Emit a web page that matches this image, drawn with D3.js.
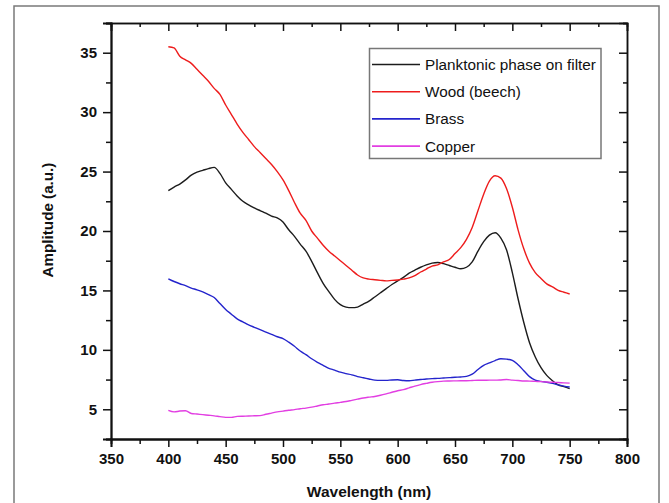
<!DOCTYPE html>
<html>
<head>
<meta charset="utf-8">
<script src="https://cdn.jsdelivr.net/npm/d3@7"></script>
<style>
  html, body { margin: 0; padding: 0; background: #fff; }
  svg { display: block; font-family: Arial, "Liberation Sans", sans-serif; }
</style>
</head>
<body>
<svg id="chart" width="669" height="503"></svg>
<script>
// Wavelength grid (nm), 5 nm step
const wavelengths = d3.range(400, 751, 5);

// Emission amplitudes (a.u.) per sample, one value per wavelength
const planktonic = [23.4, 23.7, 23.95, 24.3, 24.7, 24.95, 25.1, 25.25, 25.35, 24.85,
  24.05, 23.5, 22.95, 22.5, 22.2, 21.95, 21.72, 21.5, 21.25, 21.1,
  20.75, 20.1, 19.55, 18.9, 18.3, 17.45, 16.5, 15.6, 14.9, 14.25,
  13.8, 13.6, 13.55, 13.6, 13.85, 14.1, 14.45, 14.8, 15.15, 15.5,
  15.8, 16.1, 16.45, 16.7, 16.95, 17.15, 17.3, 17.35, 17.25, 17.1,
  16.95, 16.82, 16.95, 17.4, 18.3, 19.1, 19.65, 19.85, 19.4, 18.4,
  16.5, 14.3, 12.3, 10.6, 9.4, 8.5, 7.85, 7.4, 7.05, 6.9, 6.74];

const wood = [35.5, 35.4, 34.7, 34.4, 34.1, 33.6, 33.1, 32.6, 32.0, 31.5,
  30.6, 29.8, 29.0, 28.3, 27.7, 27.1, 26.6, 26.1, 25.6, 25.0,
  24.3, 23.4, 22.4, 21.5, 20.9, 20.0, 19.4, 18.8, 18.3, 17.9,
  17.5, 17.1, 16.7, 16.3, 16.05, 15.95, 15.9, 15.85, 15.8, 15.85,
  15.88, 15.95, 16.05, 16.25, 16.55, 16.8, 17.05, 17.15, 17.4, 17.6,
  18.1, 18.6, 19.3, 20.3, 21.7, 23.1, 24.2, 24.65, 24.45, 23.55,
  22.0, 20.1, 18.5, 17.3, 16.5, 16.0, 15.55, 15.3, 15.0, 14.85, 14.7];

const brass = [15.98, 15.75, 15.56, 15.4, 15.2, 15.05, 14.87, 14.65, 14.4, 13.9,
  13.4, 13.0, 12.6, 12.35, 12.1, 11.9, 11.7, 11.5, 11.3, 11.1,
  10.95, 10.65, 10.3, 9.9, 9.6, 9.25, 8.95, 8.7, 8.45, 8.3,
  8.12, 8.0, 7.9, 7.75, 7.65, 7.55, 7.45, 7.43, 7.43, 7.47,
  7.48, 7.42, 7.4, 7.45, 7.5, 7.55, 7.58, 7.6, 7.63, 7.66,
  7.7, 7.72, 7.77, 7.95, 8.35, 8.7, 8.9, 9.1, 9.25, 9.22,
  9.12, 8.75, 8.25, 7.75, 7.45, 7.35, 7.28, 7.18, 7.05, 6.95, 6.87];

const copper = [4.91, 4.78, 4.85, 4.88, 4.65, 4.6, 4.55, 4.5, 4.45, 4.38,
  4.32, 4.32, 4.4, 4.42, 4.43, 4.45, 4.47, 4.58, 4.68, 4.78,
  4.85, 4.92, 4.97, 5.05, 5.1, 5.18, 5.28, 5.38, 5.44, 5.52,
  5.58, 5.65, 5.75, 5.85, 5.95, 6.02, 6.08, 6.18, 6.3, 6.43,
  6.56, 6.65, 6.8, 6.95, 7.08, 7.18, 7.27, 7.33, 7.37, 7.38,
  7.39, 7.4, 7.4, 7.42, 7.44, 7.44, 7.45, 7.45, 7.47, 7.5,
  7.45, 7.42, 7.38, 7.37, 7.35, 7.33, 7.3, 7.27, 7.25, 7.22, 7.2];

const seriesNames = ["Planktonic phase on filter", "Wood (beech)", "Brass", "Copper"];
const seriesValues = [planktonic, wood, brass, copper];
const seriesColors = ["#1c1c1c", "#ee1c1c", "#2424cc", "#e23ee2"];

const xTicks = [350, 400, 450, 500, 550, 600, 650, 700, 750, 800];
const yTicks = [5, 10, 15, 20, 25, 30, 35];
const xMinorTicks = d3.range(375, 800, 50);
const yMinorTicks = d3.range(2.5, 38, 5);

const svg = d3.select("#chart");
const plot = { left: 111, right: 627, top: 23, bottom: 439 };

const x = d3.scaleLinear().domain([350, 800]).range([plot.left, plot.right]);
const y = d3.scaleLinear().domain([2.5, 37.5]).range([plot.bottom, plot.top]);

// outer figure frame
svg.append("rect")
  .attr("x", 14).attr("y", 6)
  .attr("width", 645).attr("height", 510)
  .attr("fill", "#fff").attr("stroke", "#7a7a7a").attr("stroke-width", 1.5);

// curves
const line = d3.line()
  .x((d, i) => x(wavelengths[i]))
  .y(d => y(d))
  .curve(d3.curveMonotoneX);

const curves = svg.append("g");
seriesValues.forEach((vals, k) => {
  curves.append("path")
    .datum(vals)
    .attr("d", line)
    .attr("fill", "none")
    .attr("stroke", seriesColors[k])
    .attr("stroke-width", 1.4)
    .attr("stroke-linejoin", "round");
});

// axes: left/bottom ticks outward, right/top ticks inward
function styleAxis(g) {
  g.selectAll(".domain").attr("stroke", "#111").attr("stroke-width", 1.8);
  g.selectAll(".tick line").attr("stroke", "#111").attr("stroke-width", 1.5);
  g.selectAll("text").attr("font-size", 15).attr("font-weight", "bold").attr("fill", "#111");
}

const bottomMinor = svg.append("g")
  .attr("transform", `translate(0,${plot.bottom})`)
  .call(d3.axisBottom(x).tickValues(xMinorTicks).tickSize(5).tickFormat(""));
styleAxis(bottomMinor);
const bottom = svg.append("g")
  .attr("transform", `translate(0,${plot.bottom})`)
  .call(d3.axisBottom(x).tickValues(xTicks).tickSize(8).tickPadding(6).tickFormat(d3.format("d")));
styleAxis(bottom);

const leftMinor = svg.append("g")
  .attr("transform", `translate(${plot.left},0)`)
  .call(d3.axisLeft(y).tickValues(yMinorTicks).tickSize(5).tickFormat(""));
styleAxis(leftMinor);
const left = svg.append("g")
  .attr("transform", `translate(${plot.left},0)`)
  .call(d3.axisLeft(y).tickValues(yTicks).tickSize(8).tickPadding(6).tickFormat(d3.format("d")));
styleAxis(left);

const topMinor = svg.append("g")
  .attr("transform", `translate(0,${plot.top})`)
  .call(d3.axisTop(x).tickValues(xMinorTicks).tickSize(-4).tickFormat(""));
styleAxis(topMinor);
const topAx = svg.append("g")
  .attr("transform", `translate(0,${plot.top})`)
  .call(d3.axisTop(x).tickValues(xTicks).tickSize(-8).tickFormat(""));
styleAxis(topAx);

const rightMinor = svg.append("g")
  .attr("transform", `translate(${plot.right},0)`)
  .call(d3.axisRight(y).tickValues(yMinorTicks).tickSize(-4).tickFormat(""));
styleAxis(rightMinor);
const rightAx = svg.append("g")
  .attr("transform", `translate(${plot.right},0)`)
  .call(d3.axisRight(y).tickValues(yTicks).tickSize(-8).tickFormat(""));
styleAxis(rightAx);

[topMinor, topAx, rightMinor, rightAx].forEach(g =>
  g.selectAll(".domain").attr("stroke-width", 1.5));

// axis titles
svg.append("text")
  .attr("x", (plot.left + plot.right) / 2).attr("y", 497)
  .attr("text-anchor", "middle")
  .attr("font-size", 15.5).attr("font-weight", "bold").attr("fill", "#111")
  .text("Wavelength (nm)");

svg.append("text")
  .attr("transform", "translate(53,220) rotate(-90)")
  .attr("text-anchor", "middle")
  .attr("font-size", 15.2).attr("font-weight", "bold").attr("fill", "#111")
  .text("Amplitude (a.u.)");

// legend
const legend = svg.append("g");
legend.append("rect")
  .attr("x", 369.5).attr("y", 48.5)
  .attr("width", 231.5).attr("height", 110)
  .attr("fill", "#fff").attr("stroke", "#777").attr("stroke-width", 1.5);

seriesNames.forEach((name, k) => {
  const ly = 64.5 + k * 27.2;
  legend.append("line")
    .attr("x1", 372).attr("x2", 420)
    .attr("y1", ly).attr("y2", ly)
    .attr("stroke", seriesColors[k]).attr("stroke-width", 1.6);
  legend.append("text")
    .attr("x", 425).attr("y", ly + 5.5)
    .attr("font-size", 15.3).attr("fill", "#111")
    .text(name);
});
</script>
</body>
</html>
